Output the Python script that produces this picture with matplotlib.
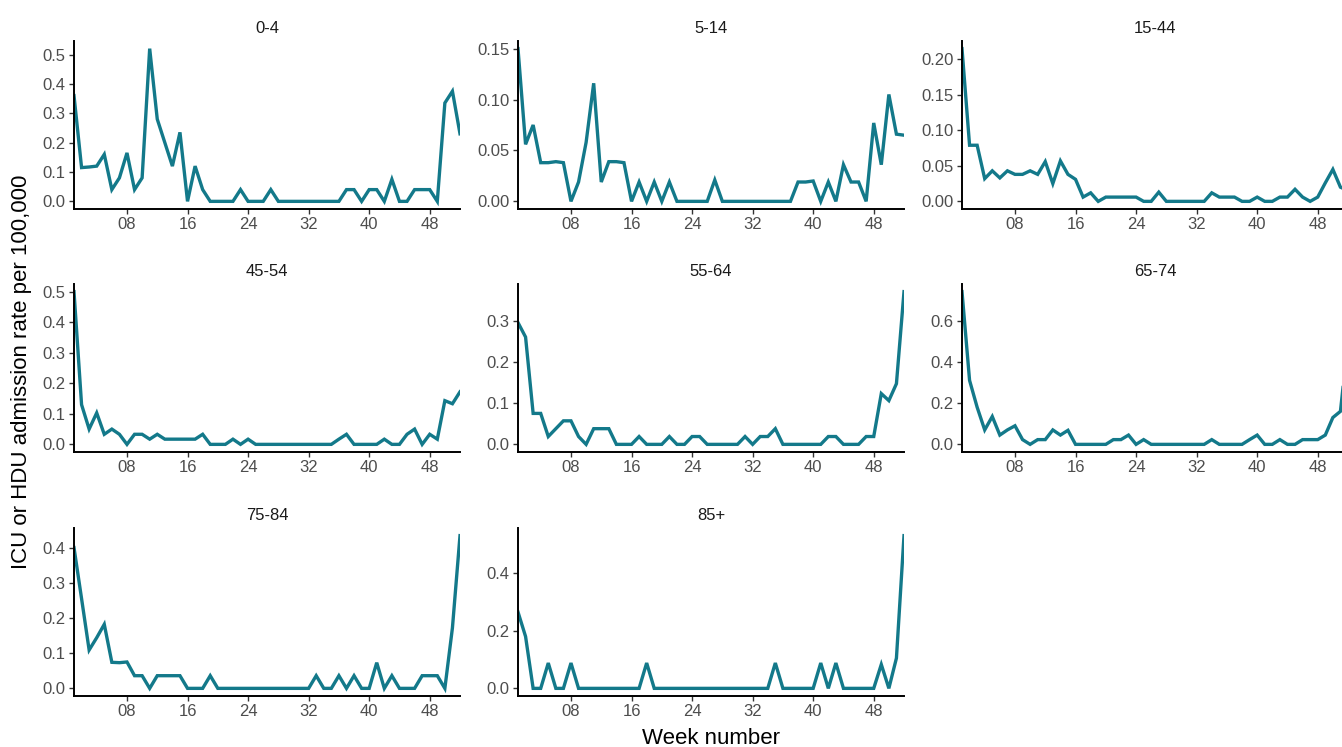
import numpy as np
import matplotlib
matplotlib.use("Agg")
import matplotlib.pyplot as plt

plt.rcParams['font.family'] = ['Liberation Sans', 'DejaVu Sans']

LINE_COLOR = "#13798a"

weeks = np.arange(1, 53)
xticks = [8, 16, 24, 32, 40, 48]
xtick_labels = ["08", "16", "24", "32", "40", "48"]

groups = ["0-4", "5-14", "15-44", "45-54", "55-64", "65-74", "75-84", "85+"]

rate_0_4 = [0.36, 0.115, 0.117, 0.12, 0.16, 0.04, 0.08, 0.165, 0.04, 0.08,
            0.52, 0.28, 0.20, 0.12, 0.235, 0, 0.12, 0.04, 0, 0,
            0, 0, 0.04, 0, 0, 0, 0.04, 0, 0, 0,
            0, 0, 0, 0, 0, 0, 0.04, 0.04, 0, 0.04,
            0.04, 0, 0.075, 0, 0, 0.04, 0.04, 0.04, 0, 0.335,
            0.375, 0.23]
rate_5_14 = [0.15, 0.056, 0.075, 0.038, 0.038, 0.039, 0.038, 0, 0.019, 0.058,
             0.116, 0.019, 0.039, 0.039, 0.038, 0, 0.019, 0, 0.019, 0,
             0.019, 0, 0, 0, 0, 0, 0.021, 0, 0, 0,
             0, 0, 0, 0, 0, 0, 0, 0.019, 0.019, 0.02,
             0, 0.019, 0, 0.036, 0.019, 0.019, 0, 0.077, 0.036, 0.105,
             0.066, 0.065]
rate_15_44 = [0.215, 0.079, 0.079, 0.032, 0.043, 0.033, 0.043, 0.038, 0.038, 0.043,
              0.038, 0.056, 0.025, 0.057, 0.038, 0.031, 0.006, 0.012, 0, 0.006,
              0.006, 0.006, 0.006, 0.006, 0, 0, 0.013, 0, 0, 0,
              0, 0, 0, 0.012, 0.006, 0.006, 0.006, 0, 0, 0.006,
              0, 0, 0.006, 0.006, 0.017, 0.006, 0, 0.006, 0.026, 0.045,
              0.02, 0.015]
rate_45_54 = [0.5, 0.13, 0.05, 0.103, 0.033, 0.05, 0.033, 0, 0.033, 0.033,
              0.017, 0.033, 0.017, 0.017, 0.017, 0.017, 0.017, 0.033, 0, 0,
              0, 0.017, 0, 0.017, 0, 0, 0, 0, 0, 0,
              0, 0, 0, 0, 0, 0.017, 0.033, 0, 0, 0,
              0, 0.017, 0, 0, 0.033, 0.05, 0, 0.033, 0.017, 0.143,
              0.133, 0.172]
rate_55_64 = [0.295, 0.26, 0.075, 0.075, 0.019, 0.038, 0.057, 0.057, 0.019, 0,
              0.038, 0.038, 0.038, 0, 0, 0, 0.019, 0, 0, 0,
              0.019, 0, 0, 0.019, 0.019, 0, 0, 0, 0, 0,
              0.019, 0, 0.019, 0.019, 0.038, 0, 0, 0, 0, 0,
              0, 0.019, 0.019, 0, 0, 0, 0.019, 0.019, 0.123, 0.106,
              0.147, 0.37]
rate_65_74 = [0.74, 0.31, 0.18, 0.07, 0.135, 0.045, 0.07, 0.09, 0.023, 0,
              0.023, 0.023, 0.07, 0.045, 0.068, 0, 0, 0, 0, 0,
              0.023, 0.023, 0.045, 0, 0.023, 0, 0, 0, 0, 0,
              0, 0, 0, 0.023, 0, 0, 0, 0, 0.023, 0.045,
              0, 0, 0.023, 0, 0, 0.023, 0.023, 0.023, 0.045, 0.13,
              0.16, 0.5]
rate_75_84 = [0.40, 0.255, 0.109, 0.144, 0.182, 0.074, 0.073, 0.075, 0.036, 0.036,
              0, 0.036, 0.036, 0.036, 0.036, 0, 0, 0, 0.036, 0,
              0, 0, 0, 0, 0, 0, 0, 0, 0, 0,
              0, 0, 0.036, 0, 0, 0.036, 0, 0.036, 0, 0,
              0.073, 0, 0.036, 0, 0, 0, 0.036, 0.036, 0.036, 0,
              0.172, 0.434]
rate_85_plus = [0.265, 0.18, 0, 0, 0.088, 0, 0, 0.088, 0, 0,
                0, 0, 0, 0, 0, 0, 0, 0.088, 0, 0,
                0, 0, 0, 0, 0, 0, 0, 0, 0, 0,
                0, 0, 0, 0, 0.088, 0, 0, 0, 0, 0,
                0.088, 0, 0.088, 0, 0, 0, 0, 0, 0.083, 0,
                0.105, 0.53]

rates = [rate_0_4, rate_5_14, rate_15_44, rate_45_54,
         rate_55_64, rate_65_74, rate_75_84, rate_85_plus]

yticks = [
    [0, 0.1, 0.2, 0.3, 0.4, 0.5],
    [0, 0.05, 0.10, 0.15],
    [0, 0.05, 0.10, 0.15, 0.20],
    [0, 0.1, 0.2, 0.3, 0.4, 0.5],
    [0, 0.1, 0.2, 0.3],
    [0, 0.2, 0.4, 0.6],
    [0, 0.1, 0.2, 0.3, 0.4],
    [0, 0.2, 0.4],
]
ytick_decimals = [1, 2, 2, 1, 1, 1, 1, 1]

# figure layout in pixels (panel grid, 3 columns)
W, H = 1342, 747
lefts = [74, 518, 962]
tops = [41, 284, 528]
pw, ph = 386, 168

fig = plt.figure(figsize=(W / 100, H / 100), dpi=100)

for i, name in enumerate(groups):
    r, c = divmod(i, 3)
    ax = fig.add_axes([lefts[c] / W, 1 - (tops[r] + ph) / H, pw / W, ph / H])
    vals = np.array(rates[i])
    ax.plot(weeks, vals, color=LINE_COLOR, lw=2.4, solid_joinstyle='miter')

    top = vals.max()
    ax.set_xlim(1, 52)
    ax.set_ylim(-0.05 * top, 1.05 * top)

    ax.set_xticks(xticks)
    ax.set_xticklabels(xtick_labels)
    ax.set_yticks(yticks[i])
    ax.set_yticklabels([f"{v:.{ytick_decimals[i]}f}" for v in yticks[i]])

    for s in ["top", "right"]:
        ax.spines[s].set_visible(False)
    for s in ["left", "bottom"]:
        ax.spines[s].set_color("black")
        ax.spines[s].set_linewidth(1.4)
    ax.tick_params(length=3.5, width=1, color="#333333", labelcolor="#4d4d4d",
                   labelsize=12, pad=2.5)
    ax.set_title(name, fontsize=12, color="#1a1a1a", pad=6)

fig.text(22 / W, 1 - 372 / H, "ICU or HDU admission rate per 100,000",
         rotation=90, ha="center", va="center", fontsize=16)
fig.text(711 / W, 1 - 738 / H, "Week number", ha="center", va="center", fontsize=16)

fig.savefig("out.png", dpi=100)
